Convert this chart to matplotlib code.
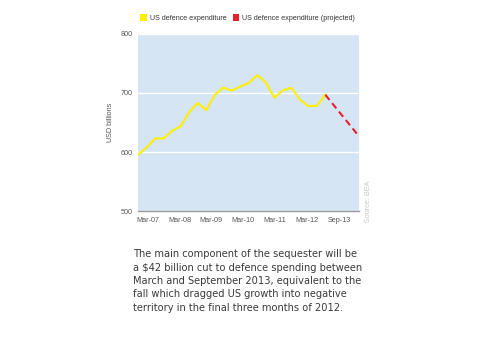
import matplotlib
matplotlib.use("Agg")
import matplotlib.pyplot as plt
import numpy as np
from matplotlib.patches import Patch

# Quarterly US defence expenditure, Mar-07 .. Sep-12 (USD billions)
actual = [596, 608, 623, 623, 636, 644, 668, 683, 671, 697, 709, 704,
          711, 717, 730, 718, 692, 704, 709, 689, 678, 678, 697]
# Projection: Sep-12 -> Sep-13
projected = [697, 626]
tick_labels = ["Mar-07", "Mar-08", "Mar-09", "Mar-10", "Mar-11", "Mar-12", "Sep-13"]
legend_labels = ["US defence expenditure", "US defence expenditure (projected)"]
y_ticks = [500, 600, 700, 800]

paragraph = ("The main component of the sequester will be\n"
             "a $42 billion cut to defence spending between\n"
             "March and September 2013, equivalent to the\n"
             "fall which dragged US growth into negative\n"
             "territory in the final three months of 2012.")

plt.rcParams['font.family'] = ['Liberation Sans', 'DejaVu Sans']

fig = plt.figure(figsize=(5, 3.5), dpi=100)
fig.patch.set_facecolor("white")
ax = fig.add_axes([0.2766, 0.397, 0.442, 0.506])
ax.set_facecolor("#d5e5f4")

x_act = np.arange(len(actual))
last = x_act[-1]
x_proj = np.array([last, last + 4])

ax.plot(x_act, actual, color="#fff000", lw=1.5, solid_joinstyle="miter", zorder=3)
ax.plot(x_proj, projected, color="#e8202a", lw=1.5, dashes=(3.2, 2.0), zorder=3)

ax.set_xlim(0, x_proj[-1])
ax.set_ylim(500, 800)
ax.set_yticks(y_ticks)
ax.grid(axis="y", color="white", lw=1.0)
ax.set_axisbelow(True)
for s in ["top", "right", "left"]:
    ax.spines[s].set_visible(False)
ax.spines["bottom"].set_color("#9a9a9a")
ax.spines["bottom"].set_linewidth(1.0)

tick_pos = np.linspace(1.1, 23.6, len(tick_labels))
ax.set_xticks(tick_pos)
ax.set_xticklabels(tick_labels)
ax.tick_params(axis="both", length=0, labelsize=5.2, colors="#555555")
ax.tick_params(axis="x", pad=4)
ax.tick_params(axis="y", pad=4)
ax.set_ylabel("USD billions", fontsize=5.2, color="#555555", labelpad=5)

fig.text(0.738, 0.365, "Source: BEA", rotation=90, fontsize=5.2, color="#c8c8c8",
         ha="center", va="bottom")

handles = [Patch(facecolor="#fff000", edgecolor="none"),
           Patch(facecolor="#e8202a", edgecolor="none")]
fig.legend(handles, legend_labels, ncol=2, frameon=False, fontsize=5.1,
           loc="center left", bbox_to_anchor=(0.268, 0.948),
           handlelength=0.95, handleheight=0.95, handletextpad=0.35,
           columnspacing=0.9, labelcolor="#333333")

fig.text(0.266, 0.197, paragraph, fontsize=7.1, color="#3a3a3a",
         family=["DejaVu Sans"], ha="left", va="center", linespacing=1.43)

fig.savefig("out.png", dpi=100, facecolor="white")
